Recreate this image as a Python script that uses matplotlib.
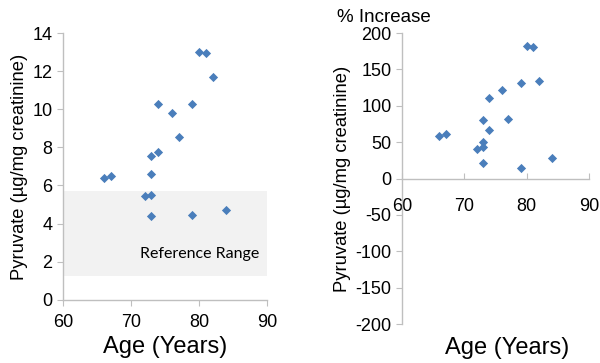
import matplotlib
matplotlib.use("Agg")
import matplotlib.pyplot as plt

# pyruvate vs age, absolute and % increase
age_abs = [66, 67, 72, 73, 73, 73, 73, 74, 74, 76, 77, 79, 79, 80, 81, 82, 84]
pyruvate = [6.4, 6.5, 5.45, 5.5, 4.4, 6.6, 7.55, 7.75, 10.3, 9.8, 8.55, 10.3, 4.45, 13.0, 12.95, 11.7, 4.7]

age_pct = [66, 67, 72, 73, 73, 73, 73, 74, 74, 76, 77, 79, 79, 80, 81, 82, 84]
pct_inc = [59, 61, 41, 50, 43, 81, 22, 67, 111, 122, 82, 132, 14, 182, 181, 134, 28]

ref_low, ref_high = 1.25, 5.7

plt.rcParams['font.family'] = ['Liberation Sans', 'DejaVu Sans']
plt.rcParams['axes.unicode_minus'] = False
blue = '#4a7ebb'
axc = '#bfbfbf'

fig = plt.figure(figsize=(6.0, 3.63), dpi=100)

# left panel
ax1 = fig.add_axes([0.105, 0.174, 0.34, 0.735])
ax1.axhspan(ref_low, ref_high, xmin=0, xmax=1.0, color='#f2f2f2', zorder=0, lw=0)
ax1.scatter(age_abs, pyruvate, marker='D', s=22, color=blue, zorder=3, linewidths=0)
ax1.text(80.1, 2.4, 'Reference Range', fontsize=11.5, family=['Lato', 'DejaVu Sans'],
         ha='center', va='center')
ax1.set_xlim(60, 90)
ax1.set_ylim(0, 14)
ax1.set_xticks([60, 70, 80, 90])
ax1.set_yticks(range(0, 15, 2))
ax1.tick_params(axis='x', pad=6)
ax1.set_xlabel('Age (Years)', fontsize=17, labelpad=4)
ax1.set_ylabel('Pyruvate (µg/mg creatinine)', fontsize=13.2, labelpad=3)

# right panel
ax2 = fig.add_axes([0.67, 0.107, 0.312, 0.802])
ax2.scatter(age_pct, pct_inc, marker='D', s=22, color=blue, zorder=3, linewidths=0)
ax2.set_xlim(60, 90)
ax2.set_ylim(-200, 200)
ax2.set_xticks([60, 70, 80, 90])
ax2.set_yticks(range(-200, 201, 50))
ax2.spines['bottom'].set_position(('data', 0))
ax2.set_ylabel('Pyruvate (µg/mg creatinine)', fontsize=13.2, labelpad=3)
ax2.set_title('% Increase', fontsize=13.5, x=-0.095, pad=8)
fig.text(0.845, 0.04, 'Age (Years)', fontsize=17, ha='center', va='center')

for ax in (ax1, ax2):
    ax.spines['top'].set_visible(False)
    ax.spines['right'].set_visible(False)
    for s in ('left', 'bottom'):
        ax.spines[s].set_color(axc)
        ax.spines[s].set_linewidth(1)
    ax.tick_params(axis='both', colors=axc, labelcolor='black', labelsize=13, length=4)
    ax.set_facecolor('none')

ax2.tick_params(axis='x', direction='in', pad=14)

fig.savefig('out.png', dpi=100)
